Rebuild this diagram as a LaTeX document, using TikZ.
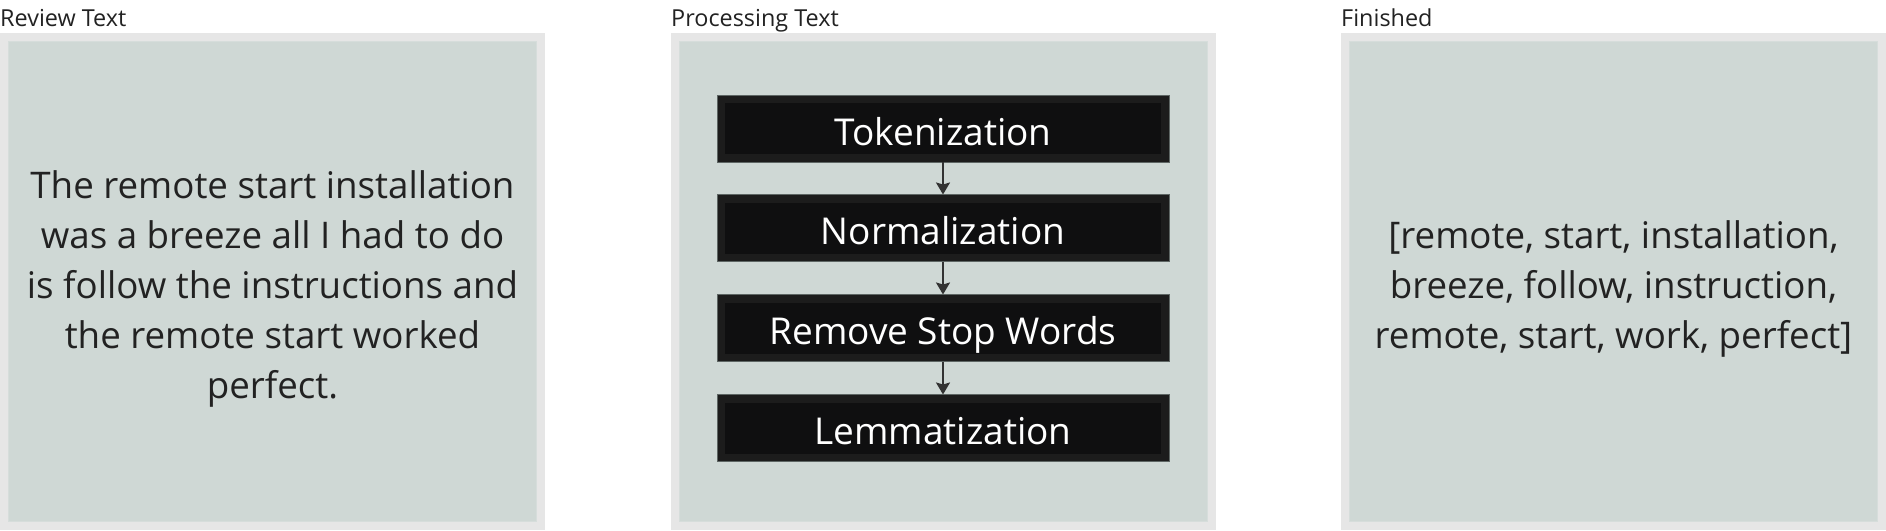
\documentclass[tikz,border=0pt]{standalone}
\usepackage{fontspec}
\setmainfont{Open Sans}
\usetikzlibrary{arrows.meta}
\definecolor{frameg}{HTML}{E6E6E6}
\definecolor{panelfill}{HTML}{CFD8D5}
\definecolor{paneledge}{HTML}{D6DDDB}
\definecolor{boxborder}{HTML}{1C1C1C}
\definecolor{boxfill}{HTML}{0F0F10}
\definecolor{boxedge}{HTML}{5E6664}
\definecolor{txt}{HTML}{222222}
\definecolor{arrowc}{HTML}{333333}
\tikzset{
  panel/.style={draw=frameg, line width=8pt, fill=panelfill, minimum width=537pt, minimum height=489pt, inner sep=0pt},
  paneltitle/.style={anchor=base west, inner sep=0pt, text=txt, font=\fontsize{23.4}{27}\selectfont},
  paneltext/.style={text=txt, align=center, inner sep=0pt, font=\fontsize{36.7}{50}\selectfont},
  stepbox/.style={draw=boxborder, line width=8pt, fill=boxfill, minimum width=444pt, minimum height=59pt, inner sep=0pt, text=white, text height=33pt, text depth=0pt, font=\fontsize{37}{40}\selectfont},
  flow/.style={draw=arrowc, line width=2pt, -{Stealth[width=14pt,length=12pt,inset=2pt]}}
}
\begin{document}
\begin{tikzpicture}[x=1pt,y=-1pt]
\useasboundingbox (0,0) rectangle (1886,530);
% panels
\node[panel] (p1) at (272.5,281.5) {};
\node[panel] (p2) at (943,281.5) {};
\node[panel] (p3) at (1613.5,281.5) {};
\foreach \p in {p1,p2,p3}{
  \draw[paneledge, line width=1pt] ([xshift=8.5pt,yshift=-8.5pt]\p.north west) rectangle ([xshift=-8.5pt,yshift=8.5pt]\p.south east);
}
% titles
\node[paneltitle] (t1) at (0,26) {Review Text};
\node[paneltitle] (t2) at (671,26) {Processing Text};
\node[paneltitle] (t3) at (1341,26) {Finished};
% panel texts
\node[paneltext] (rev) at (272.5,289) {The remote start installation\\was a breeze all I had to do\\is follow the instructions and\\the remote start worked\\perfect.};
\node[paneltext] (fin) at (1613.5,288.5) {[remote, start, installation,\\breeze, follow, instruction,\\remote, start, work, perfect]};
% steps
\node[stepbox] (b1) at (943,128.5) {Tokenization};
\node[stepbox] (b2) at (943,228) {Normalization};
\node[stepbox] (b3) at (943,328) {Remove Stop Words};
\node[stepbox] (b4) at (943,428) {Lemmatization};
\foreach \b in {b1,b2,b3,b4}{
  \draw[boxedge, line width=1pt] (\b.north west) rectangle (\b.south east);
}
\draw[flow] (b1.south) -- (b2.north);
\draw[flow] (b2.south) -- (b3.north);
\draw[flow] (b3.south) -- (b4.north);
\end{tikzpicture}
\end{document}
